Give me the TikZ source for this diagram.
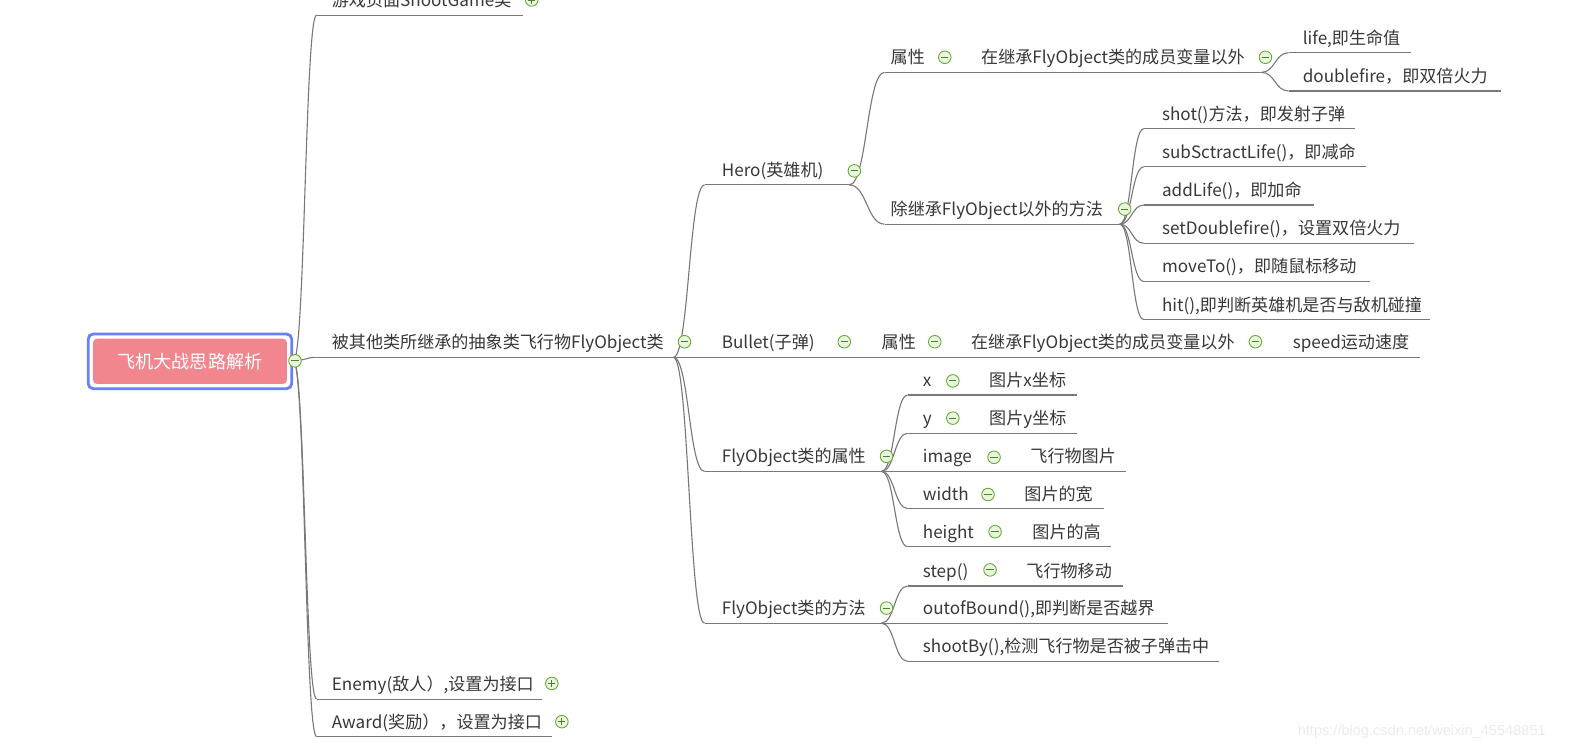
\documentclass[tikz,border=0pt]{standalone}
\usepackage{fontspec}
\setmainfont{Noto Sans CJK SC}
\newfontfamily\wmfont{Liberation Sans}
\usetikzlibrary{calc}
\definecolor{txt}{RGB}{55,55,55}
\definecolor{lnc}{RGB}{120,120,120}
\definecolor{btng}{RGB}{104,172,56}
\definecolor{btnf}{RGB}{234,245,224}
\definecolor{rootpink}{RGB}{242,134,142}
\definecolor{rootblue}{RGB}{106,128,246}
\tikzset{
 lbl/.style={anchor=base west, inner sep=0pt, text=txt, font=\fontsize{17}{20}\selectfont},
 uline/.style={draw=lnc, line width=1.1pt},
 btn/.style={circle, draw=btng, line width=0.9pt, fill=btnf, minimum size=12.5pt, inner sep=0pt},
 sgn/.style={draw=btng!75!black, line width=1.1pt},
}
\newcommand{\mmtopic}[6]{%
  \coordinate (#1-l) at (#4,#3);
  \coordinate (#1-r) at (#5,#3);
  \node[lbl] (#1) at (#2,#3-8.5) {#6};
  \draw[uline] (#1-l) -- (#1-r);
}
\newcommand{\curv}[2]{\draw[uline] let \p1=(#1-r), \p2=(#2-l) in (\p1) .. controls ({(\x1+\x2)/2},\y1) and ({(\x1+\x2)/2},\y2) .. (\p2);}
\newcommand{\mbtn}[3]{\node[btn] (#1) at (#2,#3) {}; \draw[sgn] ([xshift=-3.6pt]#1.center) -- ([xshift=3.6pt]#1.center);}
\newcommand{\pbtn}[3]{\node[btn] (#1) at (#2,#3) {}; \draw[sgn] ([xshift=-3.6pt]#1.center) -- ([xshift=3.6pt]#1.center) ([yshift=-3.6pt]#1.center) -- ([yshift=3.6pt]#1.center);}
\begin{document}
\begin{tikzpicture}[x=1pt,y=-1pt]
\useasboundingbox (0,0) rectangle (1568,746);
\clip (0,0) rectangle (1568,746);
% root
\node[fill=rootpink, rounded corners=4pt, minimum width=193pt, minimum height=45pt, inner sep=0pt, text=white, font=\fontsize{18}{20}\selectfont] (root) at (189,359.5) {飞机大战思路解析};
\draw[draw=rootblue, line width=2.8pt, rounded corners=5pt] ([xshift=-4.5pt,yshift=-4.5pt]root.south west) rectangle ([xshift=4.5pt,yshift=4.5pt]root.north east);
\coordinate (root-r) at (292,359);
% level 1
\mmtopic{shoot}{330}{15}{315}{520}{游戏页面ShootGame类}
\mmtopic{main}{330}{355.5}{315}{670}{被其他类所继承的抽象类飞行物FlyObject类}
\mmtopic{enemy}{330}{695.5}{315}{539}{Enemy(敌人）,设置为接口}
\mmtopic{award}{330}{733}{315}{549}{Award(奖励），设置为接口}
\curv{root}{shoot}
\curv{root}{main}
\curv{root}{enemy}
\curv{root}{award}
% level 2
\mmtopic{hero}{718}{184}{701}{845}{Hero(英雄机)}
\mmtopic{bullet}{718}{355.5}{701}{835}{Bullet(子弹)}
\mmtopic{attr}{718}{469}{701}{877}{FlyObject类的属性}
\mmtopic{meth}{718}{620}{701}{877}{FlyObject类的方法}
\curv{main}{hero}
\curv{main}{bullet}
\curv{main}{attr}
\curv{main}{meth}
% hero
\mmtopic{hattr}{886}{72}{880}{935}{属性}
\mmtopic{hext}{976}{72}{935}{1255}{在继承FlyObject类的成员变量以外}
\mmtopic{life}{1296}{52.5}{1282}{1404}{life,即生命值}
\mmtopic{dfire}{1296}{90.5}{1282}{1493}{doublefire，即双倍火力}
\mmtopic{hmeth}{886}{223}{880}{1114}{除继承FlyObject以外的方法}
\curv{hero}{hattr}
\curv{hattr}{hext}
\curv{hext}{life}
\curv{hext}{dfire}
\curv{hero}{hmeth}
\mmtopic{m1}{1156}{128}{1138}{1348}{shot()方法，即发射子弹}
\mmtopic{m2}{1156}{166}{1138}{1359}{subSctractLife()，即减命}
\mmtopic{m3}{1156}{204}{1138}{1307}{addLife()，即加命}
\mmtopic{m4}{1156}{242}{1138}{1407}{setDoublefire()，设置双倍火力}
\mmtopic{m5}{1156}{280}{1138}{1363}{moveTo()，即随鼠标移动}
\mmtopic{m6}{1156}{318}{1138}{1423}{hit(),即判断英雄机是否与敌机碰撞}
\curv{hmeth}{m1}
\curv{hmeth}{m2}
\curv{hmeth}{m3}
\curv{hmeth}{m4}
\curv{hmeth}{m5}
\curv{hmeth}{m6}
% bullet
\mmtopic{battr}{877}{355.5}{835}{925}{属性}
\mmtopic{bext}{966}{355.5}{925}{1244}{在继承FlyObject类的成员变量以外}
\mmtopic{speed}{1286}{355.5}{1244}{1413}{speed运动速度}
\curv{bullet}{battr}
\curv{battr}{bext}
\curv{bext}{speed}
% attributes
\mmtopic{ax}{918}{393}{903}{943}{x}
\mmtopic{axv}{984}{393}{943}{1072}{图片x坐标}
\mmtopic{ay}{918}{431}{903}{943}{y}
\mmtopic{ayv}{984}{431}{943}{1072}{图片y坐标}
\mmtopic{aimg}{918}{469}{903}{984}{image}
\mmtopic{aimgv}{1025}{469}{984}{1120}{飞行物图片}
\mmtopic{aw}{918}{506}{903}{978}{width}
\mmtopic{awv}{1019}{506}{978}{1098}{图片的宽}
\mmtopic{ah}{918}{544}{903}{985}{height}
\mmtopic{ahv}{1027}{544}{985}{1105}{图片的高}
\foreach \c in {ax,ay,aimg,aw,ah} {\curv{attr}{\c}}
\curv{ax}{axv}
\curv{ay}{ayv}
\curv{aimg}{aimgv}
\curv{aw}{awv}
\curv{ah}{ahv}
% methods
\mmtopic{ms}{918}{583}{903}{980}{step()}
\mmtopic{msv}{1021}{583}{980}{1117}{飞行物移动}
\mmtopic{mo}{918}{620}{903}{1162}{outofBound(),即判断是否越界}
\mmtopic{mb}{918}{658}{903}{1213}{shootBy(),检测飞行物是否被子弹击中}
\curv{meth}{ms}
\curv{meth}{mo}
\curv{meth}{mb}
\curv{ms}{msv}
% buttons
\mbtn{broot}{293.5}{359}
\pbtn{bshoot}{529}{0}
\mbtn{bmain}{681}{340}
\pbtn{benemy}{549}{680}
\pbtn{baward}{559}{718}
\mbtn{bhero}{850}{170}
\mbtn{bbullet}{840}{340}
\mbtn{battrb}{882}{454}
\mbtn{bmeth}{882}{605}
\mbtn{bhattr}{940}{57}
\mbtn{bhext}{1259}{57}
\mbtn{bhmeth}{1119}{208}
\mbtn{bbattr}{930}{340}
\mbtn{bbext}{1249}{340}
\mbtn{bax}{948}{379}
\mbtn{bay}{948}{416}
\mbtn{baimg}{989}{455}
\mbtn{baw}{983}{492}
\mbtn{bah}{990}{529}
\mbtn{bms}{985}{567}
% watermark
\node[anchor=west, inner sep=0pt, text=black!8, font=\wmfont\fontsize{14.5}{16}\selectfont] (wm) at (1291,728) {https://blog.csdn.net/weixin\_45548851};
\end{tikzpicture}
\end{document}
